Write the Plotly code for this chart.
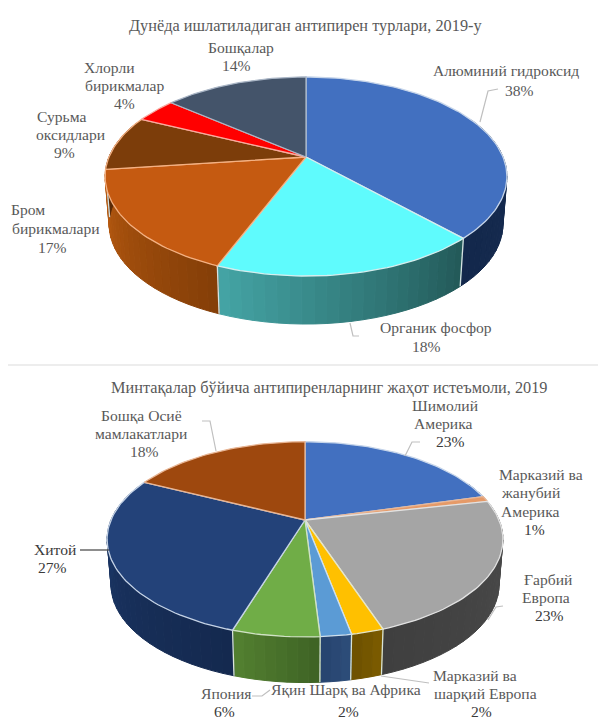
import math
import plotly.graph_objects as go

# ---------- data ----------
titles = ["Дунёда ишлатиладиган антипирен турлари, 2019-у",
          "Минтақалар бўйича антипиренларнинг жаҳот истеъмоли, 2019"]

types_names = ["Алюминий гидроксид", "Органик фосфор", "Бром бирикмалари",
               "Сурьма оксидлари", "Хлорли бирикмалар", "Бошқалар"]
types_values = [38, 18, 17, 9, 4, 14]

region_names = ["Шимолий Америка", "Марказий ва жанубий Америка", "Ғарбий Европа",
                "Марказий ва шарқий Европа", "Яқин Шарқ ва Африка", "Япония",
                "Хитой", "Бошқа Осиё мамлакатлари"]
region_labels = [23, 1, 23, 2, 2, 6, 27, 18]      # printed percentages
region_areas = [20.8, 0.9, 23.0, 2.2, 2.1, 5.9, 27.3, 17.8]  # slice sizes as drawn

# ---------- styles ----------
types_top = ["#4270c0", "#5ffbfd", "#c55a11", "#7c3d0a", "#ff0000", "#44546a"]
types_edge = ["#c6d5ea", "#d5eeee", "#f4b183", "#f4b183", "#f8a9a0", "#aab6c6"]
types_side = [("#1b3156", "#13284c"), ("#235a59", "#44a3a4"), ("#853f08", "#b85a10"),
              ("#5a2a06", "#5a2a06"), ("#990000", "#990000"), ("#2a3442", "#2a3442")]
region_top = ["#4270c0", "#e59a68", "#a5a5a5", "#ffc000", "#5b9bd5", "#70ad47", "#234279", "#9e480e"]
region_edge = ["#c6d5ea", "#e8b594", "#e2e2e2", "#e6e6c8", "#cfe0ee", "#d0e2c4", "#c5d3e6", "#e8b594"]
region_side = [("#26426f", "#26426f"), ("#8a5a38", "#8a5a38"), ("#4d4d4d", "#3f3f3f"),
               ("#7a5a00", "#6f5200"), ("#2c4c78", "#274570"), ("#3f6425", "#527f30"),
               ("#14294f", "#1d3a6c"), ("#5e2b08", "#5e2b08")]

geom1 = dict(cx=306, cy=157, R=197, S=95.7, k=0.196, depth=48)
geom2 = dict(cx=305, cy=520, R=194, S=93.8, k=0.198, depth=45.6)

fig = go.Figure()


def project(theta, g, low=False):
    s, c = math.sin(theta), math.cos(theta)
    w = 1 + g["k"] * c
    x = g["R"] * s / w
    y = -g["S"] * c / w
    if low:
        return g["cx"] + 0.98 * x, g["cy"] + y + g["depth"]
    return g["cx"] + x, g["cy"] + y


def mix(a, b, t):
    pa = [int(a[i:i + 2], 16) for i in (1, 3, 5)]
    pb = [int(b[i:i + 2], 16) for i in (1, 3, 5)]
    return "rgb(%d,%d,%d)" % tuple(round(p + (q - p) * t) for p, q in zip(pa, pb))


def arc(a, b, step=math.radians(1.5)):
    n = max(2, int(abs(b - a) / step) + 1)
    return [a + (b - a) * i / n for i in range(n + 1)]


def pie(values, top, edge, side, seam, g):
    total = sum(values)
    cum = 0
    spans = []
    for v in values:
        spans.append((cum / total * 2 * math.pi, (cum + v) / total * 2 * math.pi))
        cum += v
    # side wall first, as shaded strips
    for (a, b), cols in zip(spans, side):
        ts = arc(a, b, math.radians(3))
        for i in range(len(ts) - 1):
            if math.cos((ts[i] + ts[i + 1]) / 2) > 0.4:
                continue
            col = mix(cols[0], cols[1], i / max(1, len(ts) - 2))
            p = [project(ts[i], g), project(ts[i + 1], g),
                 project(ts[i + 1], g, True), project(ts[i], g, True)]
            fig.add_trace(go.Scatter(x=[q[0] for q in p] + [p[0][0]], y=[q[1] for q in p] + [p[0][1]],
                                     mode="lines", fill="toself", fillcolor=col,
                                     line=dict(color=col, width=1), hoverinfo="skip"))
    # seams on the front wall
    for (a, b) in spans:
        if math.cos(b) < -0.1:
            p, q = project(b, g), project(b, g, True)
            fig.add_trace(go.Scatter(x=[p[0], q[0]], y=[p[1], q[1]], mode="lines",
                                     line=dict(color=seam, width=1.3), hoverinfo="skip"))
    # top surface
    for (a, b), col, e in zip(spans, top, edge):
        pts = [project(t, g) for t in arc(a, b)]
        xs = [g["cx"]] + [q[0] for q in pts] + [g["cx"]]
        ys = [g["cy"]] + [q[1] for q in pts] + [g["cy"]]
        fig.add_trace(go.Scatter(x=xs, y=ys, mode="lines", fill="toself", fillcolor=col,
                                 line=dict(color=e, width=1.3), hoverinfo="skip"))


pie(types_values, types_top, types_edge, types_side, "#d5e2e2", geom1)
pie(region_areas, region_top, region_edge, region_side, "#d8e4d8", geom2)

# ---------- leader lines ----------
leaders = [
    ([(498, 89), (488, 91), (480, 122)], "#bfbfbf"),
    ([(350, 323), (353, 336), (359, 336)], "#bfbfbf"),
    ([(202, 421), (210, 421), (216, 451)], "#bfbfbf"),
    ([(420, 442), (412, 442), (405, 456)], "#bfbfbf"),
    ([(80, 550), (109, 550)], "#404040"),
    ([(503, 606), (496, 607), (488, 620)], "#bfbfbf"),
    ([(381, 676), (429, 683)], "#bfbfbf"),
    ([(252, 696), (262, 696), (270, 690)], "#bfbfbf"),
    ([(8, 365), (598, 365)], "#dcdcdc"),
]
for pts, col in leaders:
    fig.add_trace(go.Scatter(x=[p[0] for p in pts], y=[p[1] for p in pts], mode="lines",
                             line=dict(color=col, width=1.2), hoverinfo="skip"))

# ---------- text ----------
GREY = "#595959"
DARK = "#3a3a3a"
t = types_values
r = region_labels
texts = [
    (titles[0], 305, 25, GREY), (titles[1], 329, 387, GREY),
    ("Бошқалар", 241, 47, GREY), (f"{t[5]}%", 236, 65, GREY),
    ("Хлорли", 109, 67, GREY), ("бирикмалар", 125, 85, GREY), (f"{t[4]}%", 124, 103, GREY),
    ("Сурьма", 61, 116, GREY), ("оксидлари", 70, 134, GREY), (f"{t[3]}%", 64, 152, GREY),
    ("Бром", 28, 209, GREY), ("бирикмалари", 56, 228, GREY), (f"{t[2]}%", 52, 247, GREY),
    ("Алюминий гидроксид", 506, 70, GREY), (f"{t[0]}%", 519, 90, GREY),
    ("Органик фосфор", 436, 327, GREY), (f"{t[1]}%", 426, 346, GREY),
    ("Шимолий", 445, 405, GREY), ("Америка", 443, 423, GREY), (f"{r[0]}%", 450, 441, DARK),
    ("Бошқа Осиё", 141, 415, GREY), ("мамлакатлари", 141, 433, GREY), (f"{r[7]}%", 144, 451, GREY),
    ("Марказий ва", 541, 474, GREY), ("жанубий", 530, 492, GREY), ("Америка", 530, 511, GREY),
    (f"{r[1]}%", 534, 529, DARK),
    ("Хитой", 55, 549, DARK), (f"{r[6]}%", 52, 567, DARK),
    ("Ғарбий", 548, 579, GREY), ("Европа", 546, 597, GREY), (f"{r[2]}%", 549, 615, DARK),
    ("Марказий ва", 475, 675, GREY), ("шарқий Европа", 485, 693, GREY), (f"{r[3]}%", 481, 711, DARK),
    ("Яқин Шарқ ва Африка", 346, 689, GREY), (f"{r[4]}%", 348, 711, DARK),
    ("Япония", 226, 693, GREY), (f"{r[5]}%", 224, 711, DARK),
]
annotations = [dict(text=s, x=x, y=y, xref="x", yref="y", showarrow=False,
                    xanchor="center", yanchor="middle",
                    font=dict(family="Liberation Serif", size=(16.3 if i < 2 else 15.6), color=c))
               for i, (s, x, y, c) in enumerate(texts)]

fig.update_layout(
    width=598, height=720, autosize=False, showlegend=False,
    margin=dict(l=0, r=0, t=0, b=0),
    paper_bgcolor="white", plot_bgcolor="white",
    xaxis=dict(range=[0, 598], visible=False, fixedrange=True),
    yaxis=dict(range=[720, 0], visible=False, fixedrange=True),
    annotations=annotations,
)
fig.write_html("out.html", config=dict(displayModeBar=False),
               post_script="document.body.style.margin='0';document.documentElement.style.overflow='hidden';")
